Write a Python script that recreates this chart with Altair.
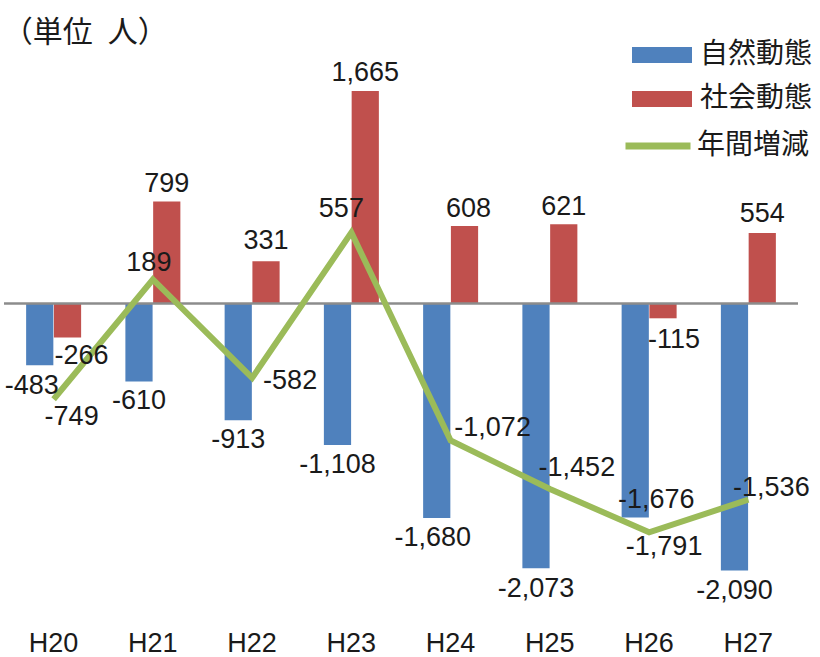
import altair as alt
import pandas as pd

# ---- data ----
categories = ["H20", "H21", "H22", "H23", "H24", "H25", "H26", "H27"]
natural = [-483, -610, -913, -1108, -1680, -2073, -1676, -2090]   # 自然動態
social = [-266, 799, 331, 1665, 608, 621, -115, 554]              # 社会動態
annual = [-749, 189, -582, 557, -1072, -1452, -1791, -1536]       # 年間増減
series_names = ["自然動態", "社会動態", "年間増減"]
unit_title = "（単位\u2002人）"

# ---- styles ----
colors = ["#4F81BD", "#C0504D", "#9BBB59"]
NUM_FONT = "Liberation Sans"
JP_FONT = "Noto Sans CJK JP"
TXT = "#1a1a1a"

# label nudges (dx, dy) in pixels relative to the bar end / line point
NUDGE = {
    series_names[0]: {"H20": (-8, 21), "H21": (0, 20), "H22": (0, 20), "H23": (0, 20),
                      "H24": (-4, 20), "H25": (0, 21), "H26": (21, -18), "H27": (0, 21)},
    series_names[1]: {"H20": (14, 18), "H21": (0, -18), "H22": (0, -20), "H23": (0, -18),
                      "H24": (4, -17), "H25": (0, -17), "H26": (11, 22), "H27": (0, -19)},
    series_names[2]: {"H20": (18, 18), "H21": (-4, -16), "H22": (38, 3), "H23": (-10, -24),
                      "H24": (42, -12), "H25": (27, -21), "H26": (15, 15), "H27": (23, -12)},
}

bars_df = pd.DataFrame({
    "cat": categories * 2,
    "series": [series_names[0]] * len(categories) + [series_names[1]] * len(categories),
    "value": natural + social,
})
bars_df["label"] = [f"{v:,}" for v in bars_df["value"]]

line_df = pd.DataFrame({"cat": categories, "lseries": series_names[2], "value": annual})
line_df["label"] = [f"{v:,}" for v in line_df["value"]]

x_scale = alt.Scale(domain=categories, paddingInner=0.446, paddingOuter=0.223)
y_scale = alt.Scale(domain=[-2400, 2300], nice=False)

X = alt.X("cat:N", scale=x_scale, sort=categories,
          axis=alt.Axis(title=None, domain=False, ticks=False, tickSize=0, grid=False,
                        labelAngle=0, labelPadding=20, labelFont=NUM_FONT,
                        labelFontSize=27, labelColor=TXT))
Y = alt.Y("value:Q", scale=y_scale, axis=None)
XOFF = alt.XOffset("series:N", scale=alt.Scale(domain=series_names[:2], paddingInner=0.02),
                   sort=series_names[:2])

bars = alt.Chart(bars_df).mark_bar().encode(
    x=X, xOffset=XOFF, y=Y,
    color=alt.Color("series:N", sort=series_names[:2],
                    scale=alt.Scale(domain=series_names[:2], range=colors[:2]),
                    legend=alt.Legend(title=None, orient="none", legendX=628, legendY=15,
                                      symbolType="M-1,-0.2667L1,-0.2667L1,0.2667L-1,0.2667Z",
                                      symbolSize=3600, symbolStrokeWidth=0, symbolOpacity=1,
                                      labelFont=JP_FONT, labelFontSize=28, labelColor=TXT,
                                      labelOffset=8, rowPadding=-14)),
)

zero = alt.Chart(pd.DataFrame({"z": [0]})).mark_rule(color="#8c8c8c", strokeWidth=2.5).encode(
    y=alt.Y("z:Q", scale=y_scale, axis=None))

line = alt.Chart(line_df).mark_line(strokeWidth=6, strokeJoin="miter").encode(
    x=X, y=Y,
    stroke=alt.Stroke("lseries:N",
                      scale=alt.Scale(domain=[series_names[2]], range=[colors[2]]),
                      legend=alt.Legend(title=None, orient="none", legendX=618, legendY=100,
                                        symbolType="stroke", symbolSize=4225,
                                        symbolStrokeWidth=7,
                                        labelFont=JP_FONT, labelFontSize=28, labelColor=TXT,
                                        labelOffset=3)),
)

layers = [bars, zero, line]
for s in series_names[:2]:
    for c in categories:
        dx, dy = NUDGE[s][c]
        layers.append(
            alt.Chart(bars_df).transform_filter(
                (alt.datum.series == s) & (alt.datum.cat == c)
            ).mark_text(font=NUM_FONT, fontSize=27, color=TXT, align="center",
                        baseline="middle", dx=dx, dy=dy).encode(
                x=X, xOffset=XOFF, y=Y, text="label:N")
        )
for c in categories:
    dx, dy = NUDGE[series_names[2]][c]
    layers.append(
        alt.Chart(line_df).transform_filter(alt.datum.cat == c).mark_text(
            font=NUM_FONT, fontSize=27, color=TXT, align="center", baseline="middle",
            dx=dx, dy=dy).encode(x=X, y=Y, text="label:N")
    )

chart = alt.layer(*layers).resolve_scale(color="independent").properties(
    width=794, height=600,
    padding={"left": 4, "top": 10, "right": 22, "bottom": 47},
    autosize=alt.AutoSizeParams(type="none"),
    background="white",
    title=alt.TitleParams(unit_title, anchor="start", font=JP_FONT, fontSize=30,
                          fontWeight="normal", color=TXT, baseline="middle",
                          offset=0, dx=0, dy=53),
).configure_view(stroke=None)

chart.save("out.html", embed_options={"renderer": "svg", "actions": False})
